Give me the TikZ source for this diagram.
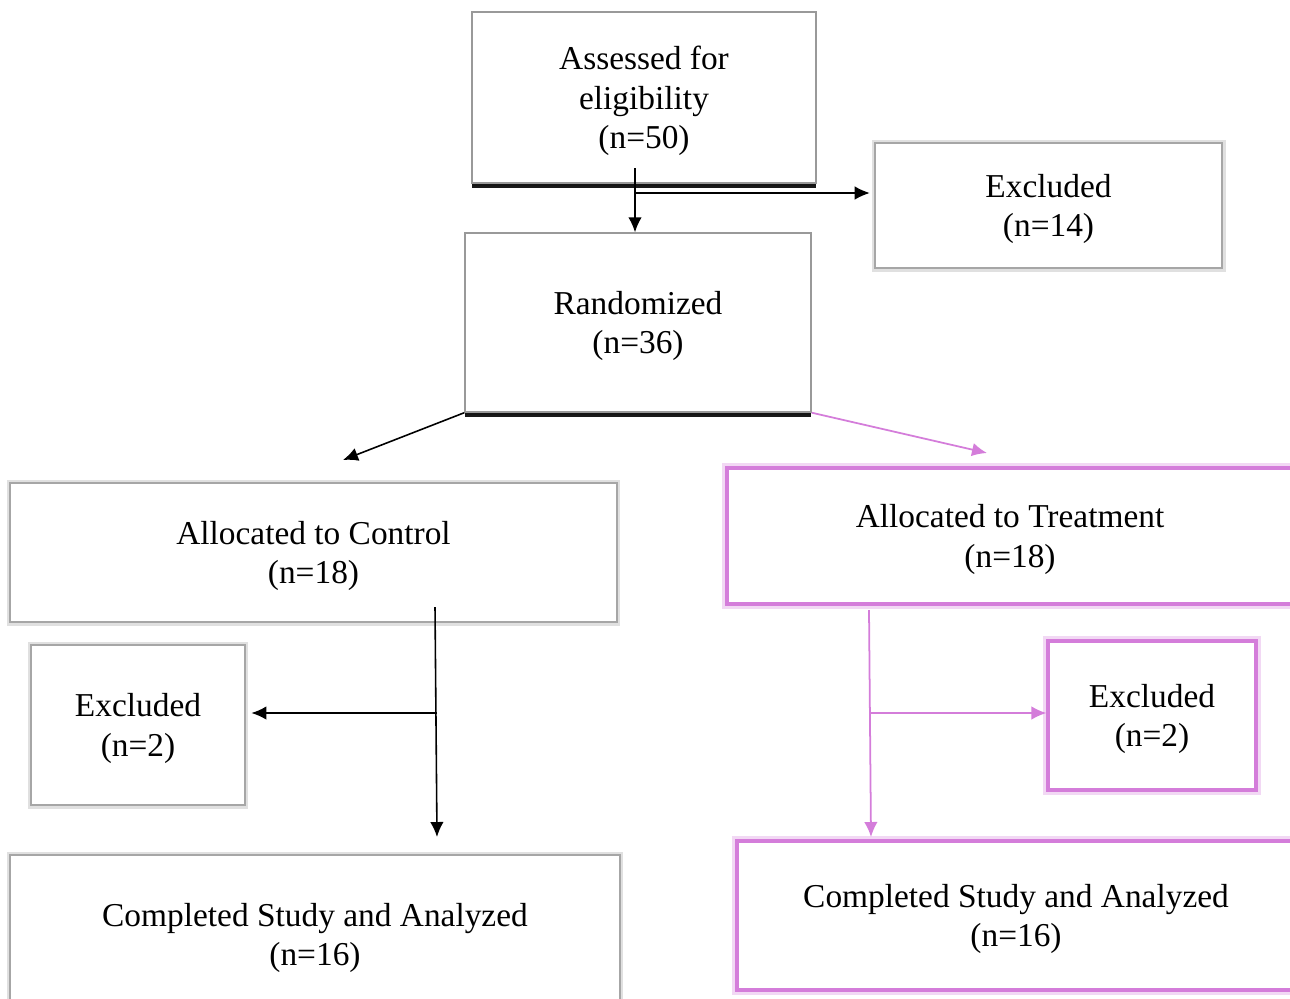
\documentclass[tikz,border=0pt]{standalone}
\usepackage{fontspec}
\setmainfont{Liberation Serif}
\usepackage{tikz}
\usetikzlibrary{arrows.meta,shadows}
\definecolor{trtv}{RGB}{212,125,218}
\tikzset{
	box/.style = {rectangle, align=center, inner sep=0pt, fill=white, text depth=0pt,
		font=\fontsize{19}{22.4}\selectfont},
	box_d/.style = {box, draw=black!40, line width=0.8pt,
		drop shadow={shadow xshift=0pt, shadow yshift=-0.06cm, fill=black!35, opacity=0.6},
		drop shadow={shadow xshift=0pt, shadow yshift=-0.1cm, fill=black, opacity=0.9}},
	box_g/.style = {box, draw=black!35, line width=1.6pt,
		preaction={draw=black!12, line width=4pt}},
	box_v/.style = {box, draw=trtv, line width=1.8pt,
		preaction={draw=trtv!30, line width=6pt}},
	arr_v/.style = {trtv, line width=1pt}
}
\begin{document}
\begin{tikzpicture}[x=0.02cm, y=-0.02cm, ->, >={Latex[length=0.3cm,width=0.27cm]}, line width=0.9pt]
\useasboundingbox (0,0) rectangle (1290,998);
\clip (0,0) rectangle (1290,998);
% boxes
\node [box_d, minimum width=6.88cm, minimum height=3.42cm] (assess) at (644,97.5)
	{Assessed for\\eligibility\\(n=50)};
\node [box_g, minimum width=6.94cm, minimum height=2.5cm] (exclT) at (1048.5,205.5)
	{Excluded\\(n=14)};
\node [box_d, minimum width=6.92cm, minimum height=3.58cm] (rand) at (638,322.5)
	{Randomized\\(n=36)};
\node [box_g, minimum width=12.14cm, minimum height=2.78cm] (ctrl) at (313.5,552.5)
	{Allocated to Control\\(n=18)};
\node [box_v, minimum width=11.32cm, minimum height=2.72cm] (trt) at (1010,536)
	{Allocated to Treatment\\(n=18)};
\node [box_g, minimum width=4.28cm, minimum height=3.2cm] (exclL) at (138,725)
	{Excluded\\(n=2)};
\node [box_v, minimum width=4.16cm, minimum height=2.98cm] (exclR) at (1152,715.5)
	{Excluded\\(n=2)};
\node [box_g, minimum width=12.2cm, minimum height=3.18cm] (compL) at (315,934.5)
	{Completed Study and Analyzed\\(n=16)};
\node [box_v, minimum width=11.16cm, minimum height=2.98cm] (compR) at (1016,915.5)
	{Completed Study and Analyzed\\(n=16)};
% junctions
\coordinate (a1) at (635,168);
\coordinate (a2) at (635,193);
\coordinate (c1) at (343,460);
\coordinate (c2) at (987,453);
\coordinate (l1) at (435,607);
\coordinate (l2) at (437,837);
\coordinate (l3) at (437,713);
\coordinate (r1) at (869,610);
\coordinate (r2) at (871,837);
\coordinate (r3) at (871,713);
% connectors
\draw (a1) -- (a1 |- rand.north);
\draw [line width=0.6pt] (a2) -- ([xshift=-0.08cm]a2 -| exclT.west);
\draw (rand.south west) -- (c1);
\draw [arr_v] (rand.south east) -- (c2);
\draw (l1) -- (l2);
\draw (l3) -- ([xshift=0.1cm]l3 -| exclL.east);
\draw [arr_v] (r1) -- (r2);
\draw [arr_v] (r3) -- (r3 -| exclR.west);
\end{tikzpicture}
\end{document}
